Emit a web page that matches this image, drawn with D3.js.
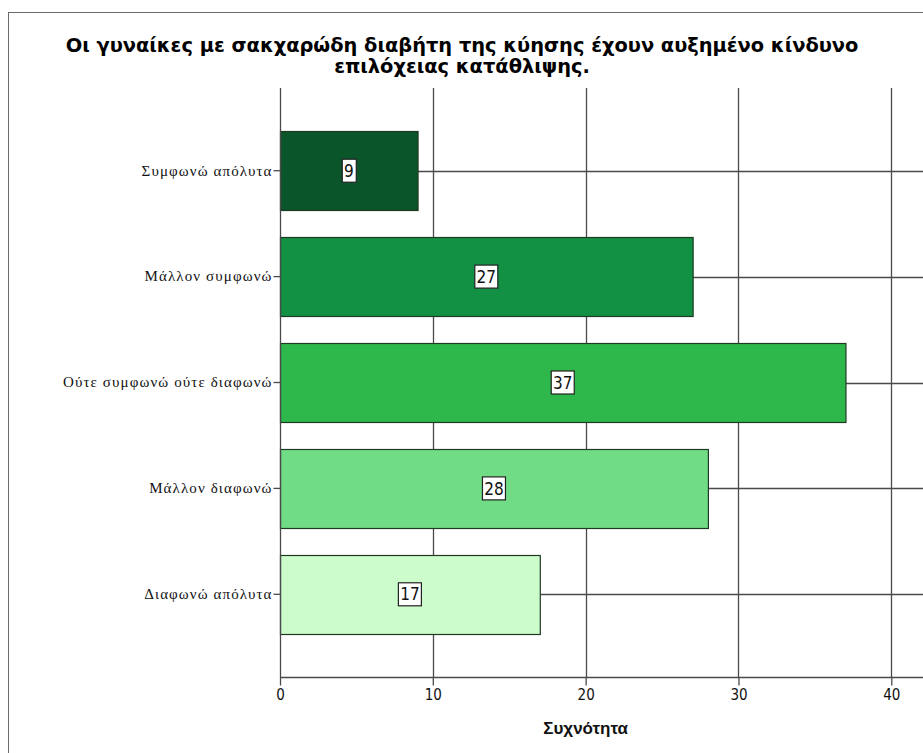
<!DOCTYPE html>
<html>
<head>
<meta charset="utf-8">
<script src="https://cdn.jsdelivr.net/npm/d3@7"></script>
<style>
  html, body { margin: 0; padding: 0; background: #fff; }
  svg { display: block; }
</style>
</head>
<body>
<script>
// Responses to the statement, top to bottom
const categories = [
  "Συμφωνώ απόλυτα",
  "Μάλλον συμφωνώ",
  "Ούτε συμφωνώ ούτε διαφωνώ",
  "Μάλλον διαφωνώ",
  "Διαφωνώ απόλυτα"
];
const counts = [9, 27, 37, 28, 17];
const barColors = ["#0b552b", "#129145", "#2eb84b", "#70dc86", "#ccfccc"];
const xTicks = [0, 10, 20, 30, 40];
const titleLines = [
  "Οι γυναίκες με σακχαρώδη διαβήτη της κύησης έχουν αυξημένο κίνδυνο",
  "επιλόχειας κατάθλιψης."
];
const xTitle = "Συχνότητα";

const W = 923, H = 753;
const plot = { left: 280, right: 891.3, top: 88, bottom: 677 };

const svg = d3.select("body").append("svg")
  .attr("width", W).attr("height", H);

// outer frame (continues past the right and bottom edges)
svg.append("rect")
  .attr("x", 8.5).attr("y", 12.5)
  .attr("width", 1000).attr("height", 1000)
  .attr("fill", "#fff").attr("stroke", "#6a6a6a").attr("stroke-width", 1);

const x = d3.scaleLinear().domain([0, 40]).range([plot.left, plot.right]);
const y = d3.scaleBand().domain(categories)
  .range([plot.top, plot.bottom])
  .paddingInner(0.25).paddingOuter(0.406);

const gridColor = "#4a4a4a";

// vertical grid lines
svg.append("g").selectAll("line")
  .data(xTicks.filter(d => d > 0))
  .join("line")
  .attr("x1", d => Math.round(x(d)) + 0.5).attr("x2", d => Math.round(x(d)) + 0.5)
  .attr("y1", plot.top).attr("y2", plot.bottom)
  .attr("stroke", gridColor).attr("stroke-width", 1.3);

// horizontal reference lines through each bar
svg.append("g").selectAll("line")
  .data(categories)
  .join("line")
  .attr("x1", plot.left).attr("x2", W)
  .attr("y1", d => Math.round(y(d) + y.bandwidth() / 2) + 0.5)
  .attr("y2", d => Math.round(y(d) + y.bandwidth() / 2) + 0.5)
  .attr("stroke", gridColor).attr("stroke-width", 1.3);

// bars
svg.append("g").selectAll("rect")
  .data(categories)
  .join("rect")
  .attr("x", x(0) + 0.5)
  .attr("y", d => Math.round(y(d)) + 0.5)
  .attr("width", (d, i) => x(counts[i]) - x(0))
  .attr("height", Math.round(y.bandwidth()))
  .attr("fill", (d, i) => barColors[i])
  .attr("stroke", "#1e3a22").attr("stroke-width", 1.2);

// x axis
const xAxis = d3.axisBottom(x).tickValues(xTicks).tickSize(8).tickPadding(4);
const gx = svg.append("g")
  .attr("transform", `translate(0,${plot.bottom + 0.5})`)
  .call(xAxis);
gx.select(".domain").attr("stroke", gridColor).attr("stroke-width", 1.3)
  .attr("d", `M${plot.left},0H${W}`);
gx.selectAll(".tick line").attr("stroke", gridColor).attr("stroke-width", 1.3);
gx.selectAll(".tick text")
  .attr("fill", "#111")
  .style("font-family", "'Liberation Sans Narrow', 'DejaVu Sans Condensed', sans-serif")
  .style("font-size", "15px");

// y axis
const yAxis = d3.axisLeft(y).tickSize(7).tickPadding(1);
const gy = svg.append("g")
  .attr("transform", `translate(${plot.left + 0.5},0)`)
  .call(yAxis);
gy.select(".domain").attr("stroke", gridColor).attr("stroke-width", 1.3)
  .attr("d", `M0,${plot.top}V${plot.bottom}`);
gy.selectAll(".tick line").attr("stroke", gridColor).attr("stroke-width", 1.3);
gy.selectAll(".tick text")
  .attr("fill", "#111")
  .style("font-family", "'Liberation Serif', 'DejaVu Serif', serif")
  .style("font-size", "15px")
  .style("letter-spacing", "1.1px");

// value labels in white boxes
const labelFont = "'Liberation Sans Narrow', 'DejaVu Sans Condensed', sans-serif";
const lab = svg.append("g").selectAll("g")
  .data(categories)
  .join("g")
  .attr("transform", (d, i) =>
    `translate(${x(counts[i] / 2)},${y(d) + y.bandwidth() / 2})`);
lab.append("text")
  .attr("text-anchor", "middle")
  .attr("dy", "0.36em")
  .attr("fill", "#111")
  .style("font-family", labelFont)
  .style("font-size", "17px")
  .text((d, i) => counts[i]);
lab.each(function () {
  const g = d3.select(this);
  const bb = g.select("text").node().getBBox();
  g.insert("rect", "text")
    .attr("x", Math.round(bb.x - 2) + 0.5)
    .attr("y", -11.5)
    .attr("width", Math.round(bb.width + 4))
    .attr("height", 23)
    .attr("fill", "#fff")
    .attr("stroke", "#222").attr("stroke-width", 1.2);
});

// chart title
svg.append("text")
  .attr("x", 462).attr("y", 52)
  .attr("text-anchor", "middle")
  .attr("fill", "#000")
  .style("font-family", "'DejaVu Sans', sans-serif")
  .style("font-weight", "bold")
  .style("font-size", "19.4px")
  .selectAll("tspan")
  .data(titleLines)
  .join("tspan")
  .attr("x", 462)
  .attr("dy", (d, i) => i === 0 ? 0 : 21)
  .text(d => d);

// axis title
svg.append("text")
  .attr("x", x(20)).attr("y", 734)
  .attr("text-anchor", "middle")
  .attr("fill", "#111")
  .style("font-family", "'Liberation Sans', Arial, sans-serif")
  .style("font-weight", "bold")
  .style("font-size", "17px")
  .text(xTitle);
</script>
</body>
</html>
